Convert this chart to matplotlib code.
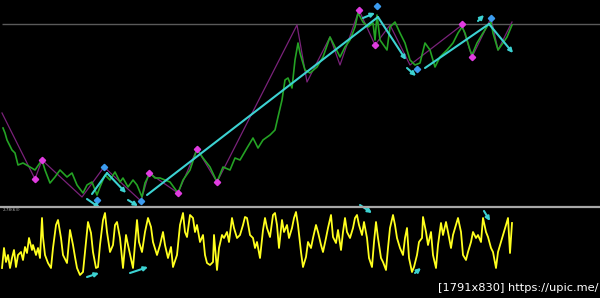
import matplotlib
matplotlib.use("Agg")
import matplotlib.pyplot as plt
from matplotlib.lines import Line2D

# ---------------- data ----------------
# price panel: bar index (x) and price level
price_x = [3, 5, 7, 12, 15, 18, 23, 30, 35, 42, 45, 50, 55, 60, 67, 72, 77, 83, 87, 92,
           97, 100, 105, 110, 115, 120, 123, 128, 133, 137, 142, 145, 150, 155, 160, 165,
           170, 178, 183, 190, 197, 203, 210, 217, 223, 230, 235, 240, 247, 253, 258, 263,
           270, 275, 278, 282, 285, 288, 292, 295, 298, 300, 305, 310, 317, 323, 330, 335,
           340, 345, 350, 355, 358, 363, 368, 373, 375, 377, 380, 387, 390, 395, 400, 405,
           410, 415, 420, 425, 430, 435, 440, 447, 453, 458, 462, 465, 470, 472, 477, 483,
           488, 491, 493, 498, 503, 507, 512]
price_y = [82, 77, 70, 60, 57, 45, 47, 43, 40, 50, 40, 27, 33, 40, 33, 37, 25, 17, 25, 28,
           15, 23, 35, 30, 38, 28, 32, 23, 30, 25, 13, 27, 37, 32, 32, 30,
           28, 17, 30, 40, 61, 52, 43, 28, 43, 40, 52, 50, 62, 72, 62, 70,
           75, 80, 93, 110, 130, 132, 122, 150, 167, 157, 140, 137, 143, 153, 173, 163,
           153, 163, 170, 183, 197, 188, 183, 187, 170, 195, 170, 160, 183, 188, 177, 167,
           150, 145, 147, 167, 160, 143, 153, 160, 167, 177, 183, 177, 160, 155, 167, 177,
           185, 188, 177, 160, 167, 173, 185]

zigzag_x = [2, 35, 42, 82, 104, 141, 149, 178, 197, 217, 297, 307, 330, 340, 359, 375,
            390, 410, 462, 472, 491, 498, 512]
zigzag_y = [97, 31, 50, 13, 43, 9, 37, 17, 61, 28, 185, 128, 173, 145, 200, 165,
            185, 145, 185, 153, 192, 160, 188]

peak_x = [35, 42, 149, 178, 197, 217, 359, 375, 462, 472]
peak_y = [31, 50, 37, 17, 61, 28, 200, 165, 186, 153]

swing_x = [97, 104, 141, 377, 417, 491]
swing_y = [10, 43, 9, 204, 141, 192]

resistance_level = 186

# trend lines: (x0, y0, x1, y1, arrow head)
trend_lines = [
    (92, 16, 107, 37, False),
    (107, 37, 126, 17, True),
    (87, 11, 100, 2, True),
    (128, 10, 138, 4, True),
    (147, 15, 378, 193, False),
    (363, 192, 375, 197, True),
    (378, 193, 406, 150, True),
    (407, 142, 416, 134, True),
    (425, 142, 489, 186, False),
    (478, 189, 484, 195, True),
    (489, 186, 513, 157, True),
]

# oscillator panel
osc_x = [2, 4, 6, 8, 10, 12, 14, 16, 18, 21, 23, 25, 27, 29, 32, 33, 36, 38, 40, 42, 43, 45,
         48, 51, 53, 56, 58, 61, 63, 67, 70, 73, 75, 77, 80, 83, 86, 88, 91, 93, 96, 98, 100,
         103, 105, 107, 110, 113, 115, 117, 120, 123, 126, 128, 132, 133, 137, 139, 142, 145,
         148, 151, 153, 157, 160, 163, 165, 168, 171, 173, 177,
         180, 183, 185, 187, 190, 193, 195, 197, 200, 203, 205, 207, 210, 213, 214, 217, 219,
         222, 224, 227, 229, 232, 234, 237, 240, 243, 245, 247, 250, 253, 255, 257, 260, 263,
         265, 267, 270, 273, 275, 277, 279, 282, 284, 287, 289, 292, 294, 296, 298, 301, 303,
         306, 308, 311, 313, 316, 318, 321, 323, 326, 328, 331, 333, 336, 338, 341, 343, 345,
         347, 350, 353, 355, 357, 359, 362, 364, 367, 369, 372, 374, 376, 378, 381, 383, 386,
         388, 390, 393, 395, 397, 400, 403, 405, 407, 409, 412, 414, 417, 419, 422, 423, 426,
         428, 431, 433, 436, 438, 441, 443, 446, 448, 451, 453, 456, 458, 461, 463, 466, 468,
         471, 473, 476, 478, 481, 483, 486, 488, 491, 493, 496, 498, 501, 503, 506, 508, 510,
         512]
osc_v = [12, 32, 18, 25, 12, 22, 30, 13, 25, 28, 20, 33, 27, 42, 30, 35, 25, 32, 22, 62, 43, 25,
         17, 12, 32, 55, 60, 42, 25, 17, 50, 35, 23, 12, 5, 8, 38, 58, 47, 28, 12, 13, 35,
         60, 67, 48, 28, 35, 55, 58, 42, 12, 45, 35, 17, 12, 60, 38, 28, 48,
         62, 53, 38, 25, 35, 48, 35, 22, 33, 13, 25,
         55, 67, 48, 43, 65, 62, 48, 55, 38, 45, 25, 17, 15, 18, 45, 10, 32,
         45, 42, 48, 38, 62, 52, 42, 45, 55, 63, 62, 45, 42, 32, 38, 22, 50,
         62, 52, 43, 65, 67, 55, 32, 60, 48, 55, 42, 52, 62, 68, 55, 28, 13,
         23, 38, 32, 42, 55, 48, 35, 28, 42, 52, 65, 43, 37, 50, 30, 48, 62,
         48, 42, 52, 62, 65, 55, 45, 58, 42, 22, 13, 38, 58, 42, 22, 18, 10,
         32, 52, 65, 55, 42, 32, 25, 42, 52, 22, 8, 13, 25, 38, 42, 63, 48,
         35, 48, 25, 12, 35, 57, 45, 58, 48, 32, 45, 55, 62, 48, 25, 20, 28,
         38, 48, 42, 45, 38, 62, 48, 43, 32, 28, 12, 28, 38, 45, 55, 62, 27,
         57]

# oscillator signal arrows: (x0, y0, x1, y1)
osc_arrows = [
    (87, 3, 99, 7),
    (130, 7, 148, 13),
    (360, 75, 372, 67),
    (415, 7, 421, 12),
    (484, 69, 490, 59),
]

# ---------------- drawing ----------------
W, H = 600, 298
fig = plt.figure(figsize=(W / 100, H / 100), dpi=100, facecolor="black")

ax = fig.add_axes([0, 1 - 206 / H, 1, 206 / H])
ax2 = fig.add_axes([0, 0, 1, 90 / H])
for a in (ax, ax2):
    a.set_facecolor("black")
    a.set_axis_off()
    a.set_xlim(0, W)
ax.set_ylim(4, 210)
ax2.set_ylim(-18, 72)

cyan = "#3cd2d2"

ax.hlines(resistance_level, 2, W, color="#5a5a5a", lw=1.0)
ax.plot(zigzag_x, zigzag_y, color="#7a227a", lw=0.9, zorder=2)
ax.plot(price_x, price_y, color="#24a224", lw=1.2, zorder=3)
ax.plot(peak_x, peak_y, ls="none", marker="D", ms=3.2, color="#e03ce0", zorder=5)
ax.plot(swing_x, swing_y, ls="none", marker="D", ms=3.2, color="#3c9cf0", zorder=5)

for x0, y0, x1, y1, head in trend_lines:
    if head:
        ax.annotate("", xy=(x1, y1), xytext=(x0, y0), annotation_clip=False,
                    arrowprops=dict(arrowstyle="-|>", color=cyan, lw=1.5,
                                    mutation_scale=6, shrinkA=0, shrinkB=0),
                    zorder=6)
    else:
        ax.plot([x0, x1], [y0, y1], color=cyan, lw=1.5, zorder=6,
                solid_capstyle="round")

ax2.plot(osc_x, osc_v, color="#ffff1e", lw=1.3, zorder=3)
for x0, y0, x1, y1 in osc_arrows:
    ax2.annotate("", xy=(x1, y1), xytext=(x0, y0), annotation_clip=False,
                 arrowprops=dict(arrowstyle="-|>", color=cyan, lw=1.5,
                                 mutation_scale=6, shrinkA=0, shrinkB=0),
                 zorder=6)

# panel separator
fig.add_artist(Line2D([0, 1], [1 - 207 / H, 1 - 207 / H], color="#a8a8a8", lw=1.6))

fig.text(3 / W, 1 - 210 / H, "2.78(63)", color="#b0b0b0", fontsize=3, va="center")
fig.text(598 / W, 1 - 288 / H, "[1791x830] https://upic.me/", color="white",
         fontsize=8.2, ha="right", va="center", family="DejaVu Sans")

fig.savefig("out.png", dpi=100, facecolor="black")
